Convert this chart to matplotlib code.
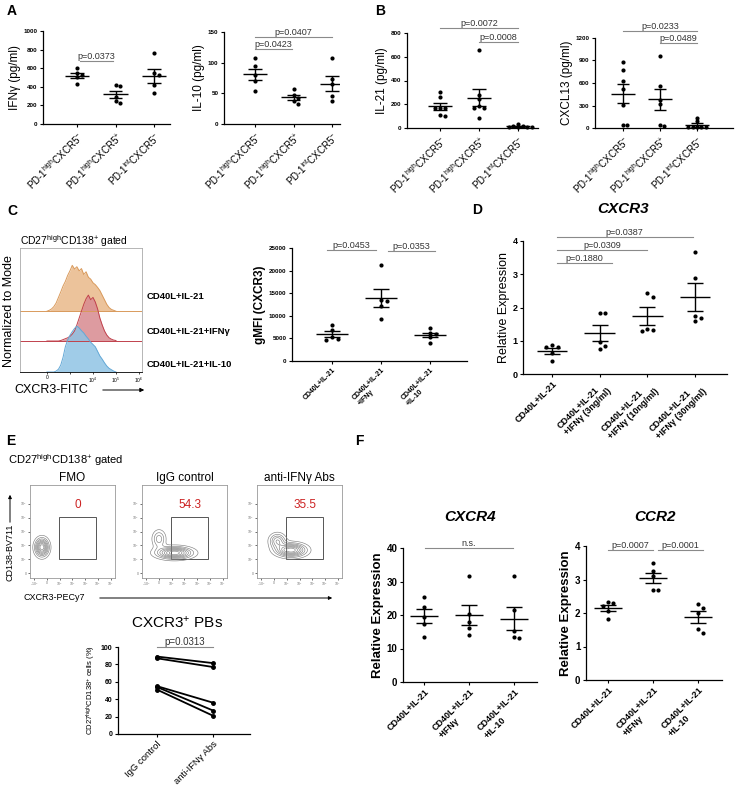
import numpy as np
import matplotlib
matplotlib.use("Agg")
import matplotlib.pyplot as plt
from matplotlib.patches import FancyArrowPatch

plt.rcParams["font.family"] = ["Liberation Sans", "DejaVu Sans"]
plt.rcParams["mathtext.fontset"] = "custom"
plt.rcParams["mathtext.rm"] = "Liberation Sans"
plt.rcParams["mathtext.it"] = "Liberation Sans:italic"
plt.rcParams["mathtext.bf"] = "Liberation Sans:bold"

# ---- data ----
pd_labels = ["PD-1$^{\\mathrm{high}}$CXCR5$^{-}$",
             "PD-1$^{\\mathrm{high}}$CXCR5$^{+}$",
             "PD-1$^{\\mathrm{int}}$CXCR5$^{-}$"]
ifng = [[600, 545, 525, 505, 425], [415, 410, 290, 245, 230], [765, 545, 530, 420, 330]]
il10 = [[107, 94, 80, 70, 54], [57, 47, 43, 37, 33], [107, 73, 66, 46, 38]]
il21 = [[300, 265, 170, 165, 170, 110, 105], [660, 275, 245, 185, 170, 165, 85],
        [35, 20, 8, 5, 5, 5, 15]]
cxcl13 = [[875, 770, 625, 515, 310, 40, 40], [965, 565, 370, 320, 45, 25],
          [140, 90, 10, 10, 10, 10, 10]]

treat_labels = ["CD40L+IL-21", "CD40L+IL-21\n+IFNγ", "CD40L+IL-21\n+IL-10"]
gmfi = [[7900, 6900, 5200, 4800, 4600], [21200, 13500, 13200, 12200, 9200],
        [7200, 6300, 5900, 5400, 4000]]

dose_labels = ["CD40L+IL-21", "CD40L+IL-21\n+IFNγ (3ng/ml)",
               "CD40L+IL-21\n+IFNγ (10ng/ml)", "CD40L+IL-21\n+IFNγ (30ng/ml)"]
cxcr3_rel = [[0.86, 0.82, 0.80, 0.62, 0.38], [1.83, 1.83, 0.95, 0.83, 0.75],
             [2.43, 2.33, 1.35, 1.31, 1.28], [3.68, 2.88, 1.73, 1.68, 1.58]]

pair_labels = ["IgG control", "anti-IFNγ Abs"]
igg_pct = [89, 87, 55, 54, 51]
anti_pct = [81.5, 77, 36, 27, 21]

cxcr4 = [[25.5, 22.3, 19.5, 17.2, 13.3], [31.7, 20.3, 18.0, 16.2, 14.0],
         [31.5, 21.4, 15.2, 13.4, 13.0]]
ccr2 = [[2.32, 2.30, 2.20, 2.05, 1.83], [3.50, 3.25, 3.10, 2.70, 2.68],
        [2.28, 2.15, 2.00, 1.53, 1.41]]

# histogram heights (normalized to mode) on a decade grid 2.0 .. 5.0
hist_x = np.round(np.arange(2.0, 5.05, 0.1), 2)
hist_il21 = [0, .02, .05, .10, .18, .30, .42, .55, .65, .78, .88, 1.0, .92, .97, .88, .93,
             .80, .86, .74, .70, .62, .58, .52, .45, .35, .25, .15, .08, .04, .02, 0]
hist_ifng = [0, 0, 0, 0, 0, 0, .01, .03, .05, .07, .10, .15, .22, .35, .50, .65,
             .80, .92, 1.0, .90, .95, .85, .70, .50, .35, .22, .13, .07, .04, .02, .01]
hist_il10 = [0, 0, 0, 0, .02, .06, .15, .32, .55, .70, .80, .88, .95, 1.0, .96, .90,
             .85, .78, .72, .65, .60, .55, .45, .35, .28, .20, .13, .08, .05, .02, 0]

# contour blobs for flow plots: (cx, cy, sx, sy, weight) in axes fraction
flow_titles = ["FMO", "IgG control", "anti-IFNγ Abs"]
flow_pct = ["0", "54.3", "35.5"]
flow_blobs = [
    [(0.14, 0.33, 0.05, 0.06, 1.0)],
    [(0.38, 0.27, 0.13, 0.04, 1.0), (0.2, 0.42, 0.05, 0.06, 0.4)],
    [(0.40, 0.30, 0.11, 0.045, 1.0), (0.24, 0.40, 0.06, 0.05, 0.55)],
]

W, H = 750, 787
fig = plt.figure(figsize=(7.5, 7.87), dpi=100)


def box(l, t, r, b):
    return fig.add_axes([l / W, 1 - b / H, (r - l) / W, (b - t) / H])


def txt(x, y, s, **kw):
    fig.text(x / W, 1 - y / H, s, **kw)


def arrow(x0, y0, x1, y1, ms=5):
    fig.add_artist(FancyArrowPatch((x0 / W, 1 - y0 / H), (x1 / W, 1 - y1 / H),
                                   arrowstyle="-|>", mutation_scale=ms, color="black", lw=0.7))


def xlim_from(l, r, c0, c1, n):
    s = (c1 - c0) / (n - 1)
    return (-(c0 - l) / s, (n - 1) + (r - c1) / s)


def swarm(vals, thr, d=0.12):
    order = np.argsort(vals)[::-1]
    xs = np.zeros(len(vals))
    placed = []
    for k in order:
        for off in [0, d, -d, 2 * d, -2 * d, 3 * d]:
            if all(abs(vals[k] - v) > thr or abs(off - o) > d * 0.9 for v, o in placed):
                break
        xs[k] = off
        placed.append((vals[k], off))
    return xs


def prism(ax, ymax, yticks, labels, lsize=7, bold=False, ytsize=4.5):
    ax.spines[["top", "right"]].set_visible(False)
    for s in ["left", "bottom"]:
        ax.spines[s].set_linewidth(0.9)
    ax.set_ylim(0, ymax)
    ax.set_yticks(yticks)
    ax.tick_params(direction="out", length=2.5, width=0.8, labelsize=ytsize, pad=1.5)
    for t in ax.get_yticklabels():
        t.set_fontweight("bold")
    ax.set_xticks(range(len(labels)))
    ax.set_xticklabels(labels, rotation=45, ha="right", rotation_mode="anchor",
                       fontsize=lsize, fontweight="bold" if bold else "normal",
                       multialignment="left")


def dots(ax, groups, ymax):
    for i, vals in enumerate(groups):
        v = np.array(vals, float)
        xs = swarm(v, ymax * 0.035)
        ax.scatter(i + xs, v, s=9, color="black", zorder=3, clip_on=False, linewidths=0)
        m = v.mean()
        se = v.std(ddof=1) / np.sqrt(len(v))
        ax.hlines(m, i - 0.32, i + 0.32, color="black", lw=1.0, zorder=4)
        ax.vlines(i, m - se, m + se, color="black", lw=1.0, zorder=4)
        ax.hlines([m - se, m + se], i - 0.17, i + 0.17, color="black", lw=1.0, zorder=4)


def bracket(ax, i, j, y, s, fs=6.5):
    ax.plot([i, j], [y, y], color="#8a8a8a", lw=0.8, clip_on=False)
    ax.text((i + j) / 2, y, s, ha="center", va="bottom", fontsize=fs, color="#333333",
            clip_on=False)


def scatter_panel(rect, cats, groups, ymax, yticks, labels, ylabel, lsize=7, bold=False,
                  ytsize=4.5, ysize=8.5, yweight="normal", ypad=2):
    l, t, r, b = rect
    ax = box(l, t, r, b)
    dots(ax, groups, ymax)
    prism(ax, ymax, yticks, labels, lsize=lsize, bold=bold, ytsize=ytsize)
    ax.set_xlim(*xlim_from(l, r, cats[0], cats[-1], len(groups)))
    ax.set_ylabel(ylabel, fontsize=ysize, fontweight=yweight, labelpad=ypad)
    return ax


# ---- panel letters ----
for s, x, y in [("A", 12, 11), ("B", 380, 11), ("C", 12, 211), ("D", 477, 210),
                ("E", 11, 441), ("F", 359, 441)]:
    txt(x, y, s, fontsize=10, fontweight="bold", ha="center", va="center")

# ---- A ----
ax = scatter_panel((43, 31, 170, 124), (77, 154), ifng, 1000, range(0, 1001, 200),
                   pd_labels, "IFNγ (pg/ml)")
bracket(ax, 0.08, 0.94, 677, "p=0.0373")
ax = scatter_panel((224, 32, 340, 124), (255, 332), il10, 150, [0, 50, 100, 150],
                   pd_labels, "IL-10 (pg/ml)")
bracket(ax, 0.0, 0.95, 122, "p=0.0423")
bracket(ax, 0.0, 2.0, 142, "p=0.0407")

# ---- B ----
ax = scatter_panel((407, 33, 538, 128), (440, 518), il21, 800, range(0, 801, 200),
                   pd_labels, "IL-21 (pg/ml)")
bracket(ax, 0.0, 2.0, 844, "p=0.0072")
bracket(ax, 1.0, 2.0, 727, "p=0.0008")
ax = scatter_panel((595, 38, 733, 128), (623, 697), cxcl13, 1200, range(0, 1201, 300),
                   pd_labels, "CXCL13 (pg/ml)")
bracket(ax, 0.0, 2.0, 1297, "p=0.0233")
bracket(ax, 1.0, 2.0, 1133, "p=0.0489")

# ---- C histogram ----
axh = box(20, 248, 142, 372)
offsets = [0.49, 0.25, 0.0]
styles = [("#e9b98a", "#d99a5c"), ("#d88a90", "#c0414c"), ("#8fc3e4", "#63a8d6")]
for hh, off, (fc, ec) in zip([hist_il21, hist_ifng, hist_il10], offsets, styles):
    y = off + np.array(hh) * 0.37
    axh.fill_between(hist_x, off, y, color=fc, alpha=0.85, lw=0)
    axh.plot(hist_x, y, color=ec, lw=0.7)
    axh.axhline(off, color=ec, lw=0.7)
axh.set_xlim(0.83, 6.13)
axh.set_ylim(0, 1)
axh.set_yticks([])
axh.set_xticks([2, 3, 4, 5, 6])
axh.set_xticklabels(["0", "", "10$^4$", "10$^5$", "10$^6$"], fontsize=3.5)
axh.tick_params(axis="x", length=1.5, width=0.5, pad=1)
for s in axh.spines.values():
    s.set_color("#aaaaaa")
    s.set_linewidth(0.6)
axh.spines["bottom"].set_color("black")
txt(20, 241, "CD27$^{\\mathrm{high}}$CD138$^{+}$ gated", fontsize=7.5, va="center")
txt(9, 311, "Normalized to Mode", fontsize=9, rotation=90, ha="center", va="center")
for s, y in [("CD40L+IL-21", 297), ("CD40L+IL-21+IFNγ", 332), ("CD40L+IL-21+IL-10", 364)]:
    txt(147, y, s, fontsize=6.8, fontweight="bold", va="center")
txt(14, 390, "CXCR3-FITC", fontsize=9, va="center")
arrow(100, 390, 147, 390, ms=6)

# ---- C gMFI ----
ax = scatter_panel((292, 248, 467, 361), (332, 430), gmfi, 25000, range(0, 25001, 5000),
                   treat_labels, "gMFI (CXCR3)", lsize=5, bold=True, ysize=8.5,
                   yweight="bold")
bracket(ax, -0.1, 0.9, 24600, "p=0.0453")
bracket(ax, 1.15, 2.1, 24400, "p=0.0353")

# ---- D ----
txt(623, 209, "CXCR3", fontsize=11, fontweight="bold", fontstyle="italic", ha="center",
    va="center")
ax = scatter_panel((523, 241, 727, 374), (552, 695), cxcr3_rel, 4, range(0, 5),
                   dose_labels, "Relative Expression", lsize=6.5, bold=True, ysize=9,
                   ytsize=6.5)
bracket(ax, 0.1, 2.95, 4.12, "p=0.0387")
bracket(ax, 0.1, 2.0, 3.73, "p=0.0309")
bracket(ax, 0.1, 1.25, 3.34, "p=0.1880")

# ---- E flow ----
txt(8, 460, "CD27$^{\\mathrm{high}}$CD138$^{+}$ gated", fontsize=8, va="center")
gx, gy = np.meshgrid(np.linspace(0, 1, 150), np.linspace(0, 1, 150))
for l, title, pct, blobs in zip([30, 142, 257], flow_titles, flow_pct, flow_blobs):
    axf = box(l, 485, l + 85, 578)
    z = np.zeros_like(gx)
    for cx, cy, sx, sy, w in blobs:
        z += w * np.exp(-((gx - cx) ** 2 / (2 * sx ** 2) + (gy - cy) ** 2 / (2 * sy ** 2)))
    axf.contour(gx, gy, z, levels=np.linspace(0.1, 0.9, 8) * z.max(), colors="#808080",
                linewidths=0.45)
    axf.add_patch(plt.Rectangle((0.34, 0.2), 0.44, 0.46, fill=False, ec="#555555", lw=0.7))
    axf.text(0.56, 0.78, pct, color="#cc2222", fontsize=8.5, ha="center", va="center")
    axf.set_xlim(0, 1)
    axf.set_ylim(0, 1)
    ticks = np.linspace(0.05, 0.95, 7)
    axf.set_xticks(ticks)
    axf.set_yticks(ticks[:6])
    axf.set_xticklabels(["-10$^3$", "0", "10$^3$", "10$^4$", "10$^5$", "10$^6$", "10$^7$"],
                        fontsize=2.5, color="#777777")
    axf.set_yticklabels(["0", "10$^2$", "10$^3$", "10$^4$", "10$^5$", "10$^6$"],
                        fontsize=2.5, color="#777777")
    axf.tick_params(length=1.2, width=0.4, pad=0.8)
    for s in axf.spines.values():
        s.set_color("#999999")
        s.set_linewidth(0.6)
    axf.set_title(title, fontsize=8.5, pad=3)
txt(10, 552, "CD138-BV711", fontsize=6.5, rotation=90, ha="center", va="center")
arrow(10, 525, 10, 492)
txt(23, 598, "CXCR3-PECy7", fontsize=6.5, va="center")
arrow(97, 598, 335, 598)

# ---- E paired ----
txt(177, 623, "CXCR3$^{+}$ PBs", fontsize=11, ha="center", va="center")
l, t, r, b = 118, 647, 250, 734
axp = box(l, t, r, b)
for a, c in zip(igg_pct, anti_pct):
    axp.plot([0, 1], [a, c], color="black", lw=1.3, marker="o", ms=2.5, clip_on=False)
prism(axp, 100, range(0, 101, 20), pair_labels, lsize=6.8, ytsize=5)
axp.set_xlim(*xlim_from(l, r, 157, 213, 2))
axp.set_ylabel("CD27$^{\\mathrm{high}}$CD138$^{+}$ cells (%)", fontsize=5.5, labelpad=2)
bracket(axp, 0, 1, 100.5, "p=0.0313", fs=7)

# ---- F ----
txt(470, 517, "CXCR4", fontsize=11, fontweight="bold", fontstyle="italic", ha="center",
    va="center")
ax = scatter_panel((403, 548, 537, 682), (424, 514), cxcr4, 40, range(0, 41, 10),
                   treat_labels, "Relative Expression", lsize=6.5, bold=True, ysize=9.5,
                   yweight="bold", ytsize=7)
bracket(ax, 0.03, 1.97, 40, "n.s.")
txt(655, 517, "CCR2", fontsize=11, fontweight="bold", fontstyle="italic", ha="center",
    va="center")
ax = scatter_panel((586, 546, 722, 680), (608, 698), ccr2, 4, range(0, 5),
                   treat_labels, "Relative Expression", lsize=6.5, bold=True, ysize=9.5,
                   yweight="bold", ytsize=7)
bracket(ax, 0.0, 1.0, 3.88, "p=0.0007")
bracket(ax, 1.1, 2.12, 3.88, "p=0.0001")

fig.savefig("out.png", dpi=100)
